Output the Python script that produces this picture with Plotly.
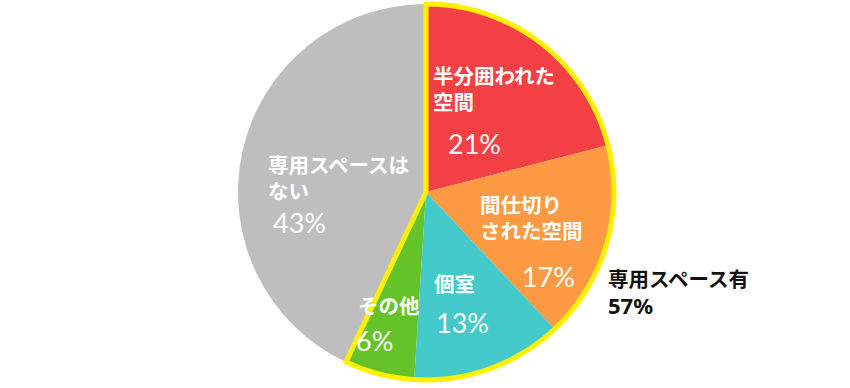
import plotly.graph_objects as go

categories = ["半分囲われた空間", "間仕切りされた空間", "個室", "その他", "専用スペースはない"]
values = [21, 17, 13, 6, 43]
colors = ["#F24044", "#FD9A43", "#43C9CA", "#64C328", "#BEBEBE"]

group_labels = ["専用スペース有", "専用スペースはない"]
group_values = [57, 43]

W, H = 850, 388
cx, cy, R = 426, 192, 188

dom = dict(x=[(cx - R) / W, (cx + R) / W], y=[(H - cy - R) / H, (H - cy + R) / H])

fig = go.Figure()
fig.add_trace(go.Pie(
    labels=categories, values=values, sort=False, direction="clockwise", rotation=0,
    marker=dict(colors=colors, line=dict(width=0)),
    textinfo="none", hoverinfo="label+percent", showlegend=False, domain=dom,
))
fig.add_trace(go.Pie(
    labels=group_labels, values=group_values, sort=False, direction="clockwise", rotation=0,
    marker=dict(colors=["rgba(0,0,0,0)", "rgba(0,0,0,0)"],
                line=dict(color=["#FFF000", "rgba(0,0,0,0)"], width=5)),
    textinfo="none", hoverinfo="skip", showlegend=False, domain=dom,
))

NAME_FONT = dict(family="Noto Sans CJK JP", size=20.5, color="white", weight=700)
PCT_FONT = dict(family="Lato, Noto Sans", size=27, color="white", weight=400)
LINE_GAP = 26

# (lines of name, left x px, first line center y px, pct left x, pct center y)
label_pos = [
    (["半分囲われた", "空間"], 432, 75, 447, 143),
    (["間仕切り", "された空間"], 479, 204, 521, 276),
    (["個室"], 433, 283, 435, 322),
    (["その他"], 357, 305, 355, 340),
    (["専用スペースは", "ない"], 267, 164, 272, 222),
]

def ann(text, x, y, font, anchor="left"):
    fig.add_annotation(text=text, x=x / W, y=1 - y / H, xref="paper", yref="paper",
                       xanchor=anchor, yanchor="middle", align="left", borderpad=0,
                       showarrow=False, font=font)

for (lines, lx, ly, px, py), v in zip(label_pos, values):
    for i, line in enumerate(lines):
        ann(line, lx, ly + i * LINE_GAP, NAME_FONT)
    ann(f"{v}%", px, py, PCT_FONT)

ann(group_labels[0], 607, 278,
    dict(family="Noto Sans CJK JP", size=20.5, color="#111111", weight=700))
ann(f"{group_values[0]}%", 607, 305,
    dict(family="Noto Sans, Noto Sans CJK JP", size=22, color="#111111", weight=700))

fig.update_layout(width=W, height=H, margin=dict(l=0, r=0, t=0, b=0),
                  paper_bgcolor="white", plot_bgcolor="white")
fig.write_html("out.html", config={"displayModeBar": False},
               post_script="document.body.style.margin='0';")
